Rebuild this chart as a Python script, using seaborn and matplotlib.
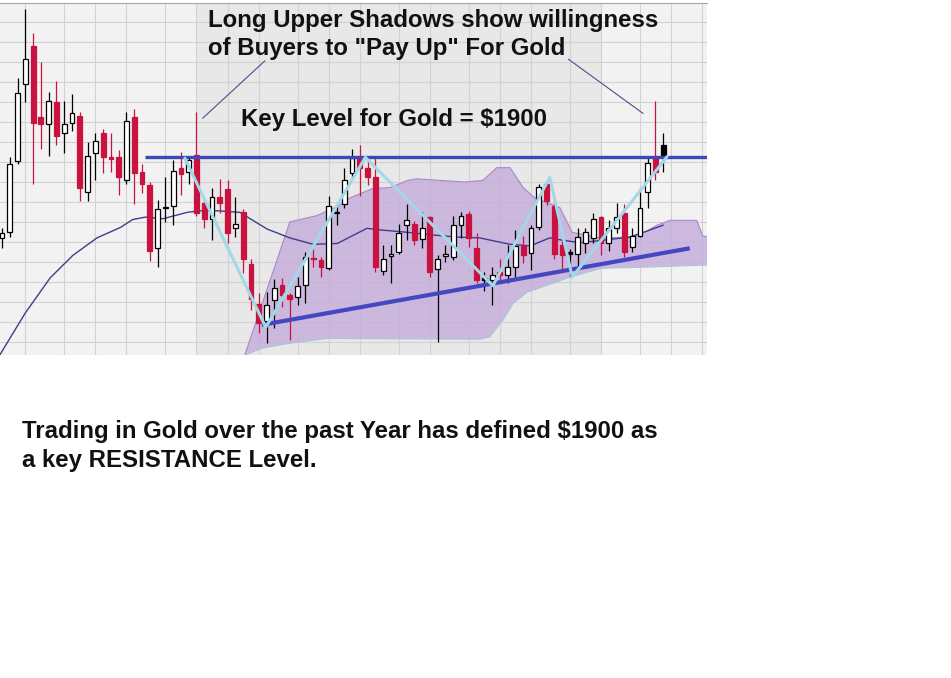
import numpy as np
import pandas as pd
import seaborn as sns
import matplotlib
matplotlib.use("Agg")
import matplotlib.pyplot as plt

sns.set_style("white")
plt.rcParams['font.family'] = ['Liberation Sans', 'DejaVu Sans']

# weekly gold candles (USD)
opens = [1798, 1806, 1894, 1991, 2039, 1950, 1941, 1968, 1930, 1942,
         1951, 1856, 1905, 1929, 1899, 1900, 1871, 1950, 1880, 1864,
         1785, 1835, 1838, 1886, 1880, 1902, 1842, 1822, 1849, 1859,
         1810, 1831, 1765, 1715, 1694, 1720, 1739, 1726, 1724, 1739,
         1772, 1770, 1760, 1829, 1840, 1879, 1899, 1886, 1874, 1756,
         1775, 1780, 1814, 1816, 1796, 1824, 1759, 1775, 1774, 1814,
         1828, 1785, 1748, 1745, 1755, 1751, 1761, 1788, 1779, 1812,
         1865, 1838, 1789, 1780, 1778, 1791, 1798, 1824, 1791, 1811,
         1829, 1786, 1801, 1855, 1898, 1901]
highs = [1811, 1899, 1999, 2085, 2055, 2019, 1981, 1995, 1969, 1978,
         1956, 1918, 1930, 1935, 1930, 1908, 1956, 1960, 1891, 1868,
         1846, 1874, 1896, 1906, 1901, 1956, 1848, 1861, 1872, 1870,
         1849, 1834, 1772, 1729, 1730, 1746, 1748, 1729, 1749, 1780,
         1784, 1774, 1850, 1842, 1885, 1910, 1914, 1898, 1898, 1789,
         1789, 1815, 1840, 1819, 1831, 1826, 1776, 1789, 1826, 1831,
         1832, 1804, 1755, 1761, 1772, 1789, 1808, 1801, 1814, 1866,
         1870, 1845, 1794, 1784, 1810, 1810, 1829, 1826, 1820, 1842,
         1840, 1810, 1861, 1901, 1970, 1929]
lows = [1785, 1799, 1891, 1968, 1866, 1910, 1901, 1914, 1904, 1932,
        1844, 1844, 1870, 1879, 1881, 1852, 1866, 1841, 1854, 1769,
        1761, 1818, 1814, 1852, 1866, 1825, 1810, 1795, 1829, 1791,
        1799, 1754, 1708, 1679, 1666, 1685, 1711, 1670, 1714, 1716,
        1761, 1749, 1758, 1814, 1835, 1874, 1851, 1864, 1755, 1751,
        1742, 1778, 1795, 1789, 1785, 1749, 1668, 1768, 1770, 1798,
        1786, 1741, 1732, 1714, 1742, 1742, 1749, 1766, 1758, 1808,
        1839, 1772, 1758, 1750, 1758, 1779, 1792, 1776, 1782, 1804,
        1774, 1780, 1799, 1836, 1870, 1880]
closes = [1804, 1891, 1980, 2022, 1942, 1941, 1969, 1926, 1941, 1955,
          1860, 1901, 1919, 1899, 1897, 1874, 1945, 1879, 1866, 1781,
          1834, 1836, 1882, 1878, 1896, 1829, 1822, 1849, 1842, 1804,
          1816, 1771, 1721, 1691, 1714, 1735, 1726, 1722, 1738, 1774,
          1771, 1761, 1838, 1831, 1870, 1898, 1886, 1874, 1761, 1771,
          1778, 1804, 1820, 1795, 1810, 1755, 1772, 1778, 1814, 1826,
          1798, 1745, 1745, 1752, 1751, 1762, 1788, 1776, 1810, 1862,
          1844, 1778, 1776, 1778, 1799, 1805, 1822, 1792, 1810, 1824,
          1780, 1801, 1836, 1892, 1880, 1915]
# w = hollow up candle, r = red down candle, k = black
candle_kind = ("wwwwrrwrww" "rwwrrrwrrr" "wwwrwrrwrr" "wrrrwwrrww" "rrwwwwrrrw"
               "wwwrwrwwww" "rrkwrwwrww" "rrrkwwwrww" "rwwwrk")

# moving average (week index, price)
ma_idx = [-0.3, 3.0, 6.2, 9.1, 12.2, 15.2, 16.8, 18.4, 20.7, 23.8, 25.4, 27.6,
          30.6, 31.9, 34.1, 37.0, 40.0, 43.1, 44.7, 46.9, 48.6, 52.1, 55.0,
          58.5, 61.4, 65.3, 67.9, 70.4, 72.1, 74.3, 77.2, 80.7, 83.3, 85.0]
ma_val = [1651, 1704, 1748, 1776, 1798, 1811, 1821, 1824, 1822, 1830, 1832, 1832,
          1830, 1822, 1809, 1798, 1790, 1791, 1799, 1810, 1808, 1805, 1802,
          1799, 1798, 1790, 1788, 1798, 1795, 1792, 1795, 1799, 1808, 1814]

# purple band
band_up_idx = [31.2, 37.0, 40.5, 43.4, 44.7, 47.7, 49.9, 52.1, 53.3, 59.5, 61.8,
               63.6, 65.3, 67.0, 68.5, 70.1, 71.7, 73.3, 76.9, 80.7, 82.6, 84.2,
               85.9, 89.3, 90.1, 90.7]
band_up_val = [1651, 1818, 1826, 1839, 1848, 1860, 1861, 1870, 1872, 1868, 1870,
               1886, 1886, 1861, 1848, 1842, 1836, 1805, 1798, 1799, 1805, 1814,
               1820, 1820, 1800, 1800]
band_lo_idx = [31.2, 33.5, 37.0, 41.8, 61.4, 62.7, 64.4, 65.7, 67.5, 70.8, 73.0,
               77.1, 81.6, 90.7]
band_lo_val = [1651, 1660, 1666, 1672, 1671, 1674, 1695, 1716, 1730, 1741, 1749,
               1760, 1761, 1764]

# hand-drawn swing lines
swing_idx = [23.5, 33.9, 46.7, 63.1, 70.4, 73.3, 85.5]
swing_val = [1898, 1686, 1899, 1738, 1874, 1749, 1900]
support_idx = [33.4, 88.4]
support_val = [1689, 1785]
resistance = 1900
resistance_start = 18.4
callout_left = ([25.8, 33.8], [1948, 2020])
callout_right = ([72.8, 82.4], [2022, 1954])

month_idx = [3, 8, 12, 16, 21, 25, 29, 33, 38, 42, 46, 51, 55, 60, 64, 68,
             73, 77, 82, 86, 90]
price_grid = [1668 + 25 * k for k in range(18)]
year_2021 = (25, 77)

df = pd.DataFrame({"open": opens, "high": highs, "low": lows,
                   "close": closes, "kind": list(candle_kind)})
df["idx"] = np.arange(len(df))
df["body_lo"] = df[["open", "close"]].min(axis=1)
df["body_h"] = (df[["open", "close"]].max(axis=1) - df["body_lo"]).clip(lower=1.5)
red = "#c9123f"
face = {"w": "white", "r": red, "k": "black"}
edge = {"w": "black", "r": red, "k": "black"}

W, H = 951, 678
fig = plt.figure(figsize=(W / 100, H / 100), dpi=100)
ax = fig.add_axes([0, 1 - 355 / H, 707 / W, 352.5 / H])
ax.set_facecolor("#f2f2f2")
ax.axvspan(*year_2021, color="#e8e8e8", lw=0, zorder=0)

ax.set_xlim(-0.257, 90.62)
ax.set_ylim(1651.25, 2091.9)
ax.set_xticks(month_idx)
ax.set_yticks(price_grid)
ax.tick_params(length=0, labelbottom=False, labelleft=False)
ax.grid(True, color="#d2d2d2", lw=0.8)
ax.set_axisbelow(True)
for s in ["left", "right", "bottom"]:
    ax.spines[s].set_visible(False)
ax.spines["top"].set_color("#a8a8a8")

# band
poly_x = np.r_[band_up_idx, band_lo_idx[::-1]]
poly_y = np.r_[band_up_val, band_lo_val[::-1]]
ax.fill(poly_x, poly_y, color="#c7afdc", alpha=0.85, lw=0, zorder=1)
ax.plot(band_up_idx, band_up_val, color="#a68ac6", lw=0.8, zorder=1.1)
ax.plot(band_lo_idx, band_lo_val, color="#a4c9d6", lw=0.8, zorder=1.1)

sns.lineplot(x=ma_idx, y=ma_val, sort=False, color="#3e3e8c", lw=1.0, ax=ax, zorder=2)

ax.vlines(df["idx"], df["low"], df["high"], colors=[edge[k] for k in df["kind"]],
          lw=0.9, zorder=3)
ax.bar(df["idx"], df["body_h"], bottom=df["body_lo"], width=0.62,
       color=[face[k] for k in df["kind"]], edgecolor=[edge[k] for k in df["kind"]],
       lw=0.9, zorder=4)

ax.hlines(resistance, resistance_start, 90.62, color="#3b48b6", lw=2.4, zorder=5)
ax.plot(support_idx, support_val, color="#4547c0", lw=3.0, solid_capstyle="butt", zorder=5)
sns.lineplot(x=swing_idx, y=swing_val, sort=False, color="#a2d8e8", lw=2.2, ax=ax, zorder=6)
ax.plot(*callout_left, color="#4e4e90", lw=0.8, zorder=6)
ax.plot(*callout_right, color="#4e4e90", lw=0.8, zorder=6)

txt = dict(fontsize=17.3, fontweight="bold", color="#111111", va="baseline", ha="left")
fig.text(208 / W, 1 - 27 / H, "Long Upper Shadows show willingness", **txt)
fig.text(208 / W, 1 - 55 / H, 'of Buyers to "Pay Up" For Gold', **txt)
fig.text(241 / W, 1 - 126 / H, "Key Level for Gold = $1900", **txt)
fig.text(22 / W, 1 - 438 / H, "Trading in Gold over the past Year has defined $1900 as", **txt)
fig.text(22 / W, 1 - 467 / H, "a key RESISTANCE Level.", **txt)

fig.savefig("out.png", dpi=100)
